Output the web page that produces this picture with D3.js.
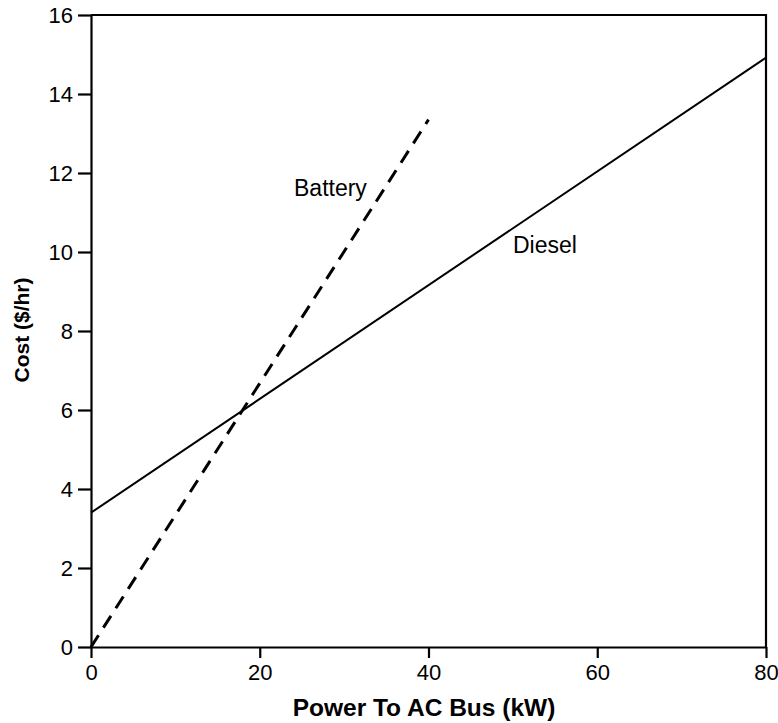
<!DOCTYPE html>
<html lang="en">
<head>
  <meta charset="UTF-8">
  <title>Cost vs Power</title>
  <script src="https://d3js.org/d3.v7.min.js"></script>
  <style>
    body {
      margin: 0;
      padding: 0;
      background-color: #fff;
    }
    .axis text {
      font-family: "Liberation Sans", Arial, sans-serif;
      font-size: 22px;
      fill: #000;
    }
    .axis path, .axis line {
      stroke: #000;
      stroke-width: 2.2px;
    }
    .title {
      font-family: "Liberation Sans", Arial, sans-serif;
      font-weight: bold;
    }
    .label {
      font-family: "Liberation Sans", Arial, sans-serif;
      font-size: 23px;
    }
  </style>
</head>
<body>
  <div id="chart"></div>
  <script>
    // Data
    const xTicks = [0, 20, 40, 60, 80];
    const yTicks = [0, 2, 4, 6, 8, 10, 12, 14, 16];
    const dieselX = [0, 80];
    const dieselY = [3.4, 14.92];
    const batteryX = [0, 40];
    const batteryY = [0, 13.35];

    const width = 778;
    const height = 723;
    const margin = { top: 15, right: 12, bottom: 76, left: 91 };

    const svg = d3.select('#chart')
      .append('svg')
      .attr('width', width)
      .attr('height', height);

    const x = d3.scaleLinear().domain([0, 80]).range([margin.left, width - margin.right]);
    const y = d3.scaleLinear().domain([0, 16]).range([height - margin.bottom, margin.top]);

    // Frame (top and right)
    svg.append('path')
      .attr('d', `M${x(0)},${y(16)}H${x(80)}V${y(0)}`)
      .attr('fill', 'none')
      .attr('stroke', '#000')
      .attr('stroke-width', 2.2);

    // Axes
    svg.append('g')
      .attr('class', 'axis')
      .attr('transform', `translate(0,${y(0)})`)
      .call(d3.axisBottom(x).tickValues(xTicks).tickSize(11).tickPadding(6).tickSizeOuter(0));

    svg.append('g')
      .attr('class', 'axis')
      .attr('transform', `translate(${x(0)},0)`)
      .call(d3.axisLeft(y).tickValues(yTicks).tickSize(13).tickPadding(5).tickSizeOuter(0));

    // Lines
    const line = d3.line().x(d => x(d[0])).y(d => y(d[1]));

    svg.append('path')
      .datum(d3.zip(dieselX, dieselY))
      .attr('d', line)
      .attr('fill', 'none')
      .attr('stroke', '#000')
      .attr('stroke-width', 2);

    svg.append('path')
      .datum(d3.zip(batteryX, batteryY))
      .attr('d', line)
      .attr('fill', 'none')
      .attr('stroke', '#000')
      .attr('stroke-width', 3)
      .attr('stroke-dasharray', '14,9');

    // Line labels
    svg.append('text')
      .attr('class', 'label')
      .attr('x', 294)
      .attr('y', 196)
      .text('Battery');

    svg.append('text')
      .attr('class', 'label')
      .attr('x', 513)
      .attr('y', 253)
      .text('Diesel');

    // Axis titles
    svg.append('text')
      .attr('class', 'title')
      .attr('x', 424)
      .attr('y', 716)
      .attr('text-anchor', 'middle')
      .style('font-size', '24.5px')
      .text('Power To AC Bus (kW)');

    svg.append('text')
      .attr('class', 'title')
      .attr('transform', `translate(29,330) rotate(-90)`)
      .attr('text-anchor', 'middle')
      .style('font-size', '21px')
      .text('Cost ($/hr)');
  </script>
</body>
</html>
